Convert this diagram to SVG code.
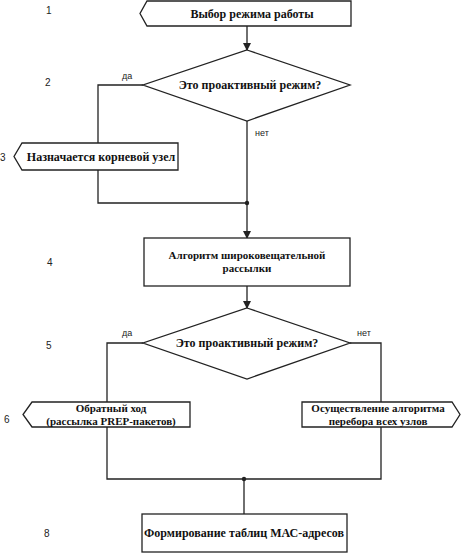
<svg xmlns="http://www.w3.org/2000/svg" width="466" height="554" viewBox="0 0 466 554">
<style>
.n{fill:#fff;stroke:#222;stroke-width:1.3}
.t{font-family:"Liberation Serif","DejaVu Serif",serif;font-weight:bold;font-size:12px;fill:#111;text-anchor:middle}
.t2{font-family:"Liberation Serif","DejaVu Serif",serif;font-weight:bold;font-size:11px;fill:#111;text-anchor:middle}
.l{font-family:"Liberation Sans",sans-serif;font-size:9px;fill:#222}
.num{font-family:"Liberation Sans",sans-serif;font-size:10px;fill:#222}
.c{fill:none;stroke:#222;stroke-width:1.3}
</style>
<defs>
<marker id="ah" markerWidth="8" markerHeight="8" refX="7" refY="4" orient="auto" markerUnits="userSpaceOnUse">
<path d="M0,0 L8,4 L0,8 Z" fill="#222"/>
</marker>
</defs>
<rect width="466" height="554" fill="#fff"/>
<g id="numbers">
<text class="num" x="46" y="14">1</text>
<text class="num" x="45" y="86">2</text>
<text class="num" x="0" y="161">3</text>
<text class="num" x="47" y="266">4</text>
<text class="num" x="46" y="349">5</text>
<text class="num" x="4" y="423">6</text>
<text class="num" x="44" y="537">8</text>
</g>
<g id="connectors">
<line class="c" x1="247" y1="26" x2="247" y2="50" marker-end="url(#ah)"/>
<polyline class="c" points="143,85 98,85 98,143"/>
<polyline class="c" points="98,170 98,203 247,203"/>
<line class="c" x1="247" y1="121" x2="247" y2="238" marker-end="url(#ah)"/>
<circle cx="247" cy="203" r="2.2" fill="#222"/>
<line class="c" x1="247" y1="286" x2="247" y2="308" marker-end="url(#ah)"/>
<polyline class="c" points="143,343 107,343 107,402"/>
<polyline class="c" points="350,343 381,343 381,402"/>
<polyline class="c" points="107,427 107,479 381,479 381,427"/>
<line class="c" x1="244" y1="479" x2="244" y2="514"/>
<circle cx="244" cy="479" r="2.2" fill="#222"/>
<text class="l" x="122" y="79">да</text>
<text class="l" x="255" y="136">нет</text>
<text class="l" x="122" y="336">да</text>
<text class="l" x="357" y="336">нет</text>
</g>
<g id="node1">
<polygon class="n" points="147,1 351,1 351,26 147,26 140,13.5"/>
<text class="t" x="252" y="18">Выбор режима работы</text>
</g>
<g id="node2">
<polygon class="n" points="247,50 350,85 247,121 143,85"/>
<text class="t" x="250" y="89">Это проактивный режим?</text>
</g>
<g id="node3">
<polygon class="n" points="22,143 178,143 178,170 22,170 14,156.5"/>
<text class="t" x="101" y="161">Назначается корневой узел</text>
</g>
<g id="node4">
<rect class="n" x="144" y="238" width="206" height="48"/>
<text class="t2" x="247" y="259">Алгоритм широковещательной</text>
<text class="t2" x="247" y="271.5">рассылки</text>
</g>
<g id="node5">
<polygon class="n" points="247,308 350,343 247,379 143,343"/>
<text class="t" x="247" y="347">Это проактивный режим?</text>
</g>
<g id="node6">
<polygon class="n" points="32,402 190,402 190,427 32,427 23,414.5"/>
<text class="t2" x="111" y="412">Обратный ход</text>
<text class="t2" x="111" y="424.5">(рассылка PREP-пакетов)</text>
</g>
<g id="node7">
<polygon class="n" points="302,402 452,402 460,414.5 452,427 302,427"/>
<text class="t2" x="378" y="412">Осуществление алгоритма</text>
<text class="t2" x="378" y="424.5">перебора всех узлов</text>
</g>
<g id="node8">
<rect class="n" x="142" y="514" width="205" height="38"/>
<text class="t" x="244" y="537">Формирование таблиц МАС-адресов</text>
</g>
</svg>
